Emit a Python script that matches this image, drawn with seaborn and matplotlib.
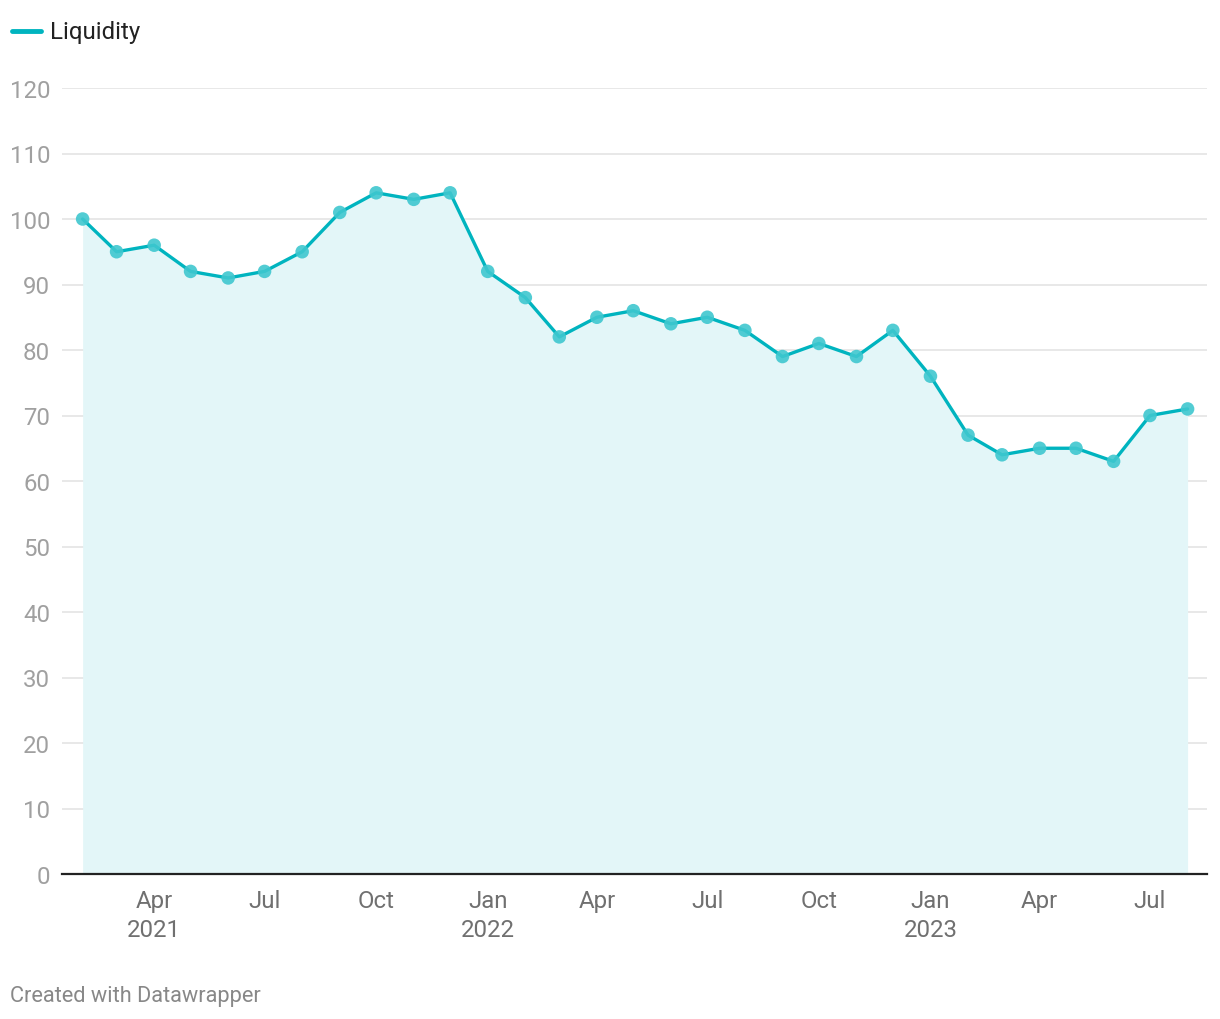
import pandas as pd
import matplotlib.pyplot as plt
import seaborn as sns

# Monatswerte Feb 2021 - Aug 2023
months = pd.date_range("2021-02-01", "2023-08-01", freq="MS")
liquidity = [100, 95, 96, 92, 91, 92, 95, 101, 104, 103, 104, 92, 88, 82, 85, 86,
             84, 85, 83, 79, 81, 79, 83, 76, 67, 64, 65, 65, 63, 70, 71]
y_ticks = [0, 10, 20, 30, 40, 50, 60, 70, 80, 90, 100, 110, 120]
x_ticks = ["2021-04-01", "2021-07-01", "2021-10-01", "2022-01-01", "2022-04-01",
           "2022-07-01", "2022-10-01", "2023-01-01", "2023-04-01", "2023-07-01"]
x_labels = ["Apr\n2021", "Jul", "Oct", "Jan\n2022", "Apr", "Jul", "Oct",
            "Jan\n2023", "Apr", "Jul"]

df = pd.DataFrame({"date": months, "value": liquidity})

sns.set_style("white")
plt.rcParams["font.family"] = ["Roboto", "DejaVu Sans"]

line_color = "#00b4bf"
fill_color = "#e3f6f8"

fig = plt.figure(figsize=(12.2, 10.2), dpi=100)
ax = fig.add_axes([62 / 1220, 145 / 1020, 1145 / 1220, 786 / 1020])

ax.fill_between(df["date"], 0, df["value"], color=fill_color, lw=0, zorder=1)
sns.lineplot(data=df, x="date", y="value", ax=ax, color=line_color, lw=2.4,
             zorder=3, legend=False)
sns.scatterplot(data=df, x="date", y="value", ax=ax, color="#3fc7cf", s=95,
                edgecolor="none", alpha=0.9, zorder=4, legend=False)

ax.set_ylim(0, 120)
ax.set_xlim(pd.Timestamp("2021-01-15"), pd.Timestamp("2023-08-17"))

ax.set_yticks(y_ticks)
ax.set_yticklabels([str(v) for v in y_ticks])
ax.set_xticks([pd.Timestamp(t) for t in x_ticks])
ax.set_xticklabels(x_labels)

ax.grid(axis="y", color="#e2e2e2", lw=1.1, zorder=0)
ax.grid(axis="x", visible=False)
for side in ["top", "right", "left"]:
    ax.spines[side].set_visible(False)
ax.spines["bottom"].set_color("#222222")
ax.spines["bottom"].set_linewidth(1.6)
ax.spines["bottom"].set_zorder(5)

ax.tick_params(axis="y", length=0, pad=8.6, labelsize=17.3, labelcolor="#a0a0a0")
ax.tick_params(axis="x", length=0, pad=11, labelsize=17.3, labelcolor="#707070")
for lbl in ax.get_xticklabels():
    lbl.set_linespacing(1.3)
ax.set_xlabel("")
ax.set_ylabel("")

# Legende oben links
fig.add_artist(plt.Line2D([12 / 1220, 41 / 1220], [1 - 32 / 1020, 1 - 32 / 1020],
                          color=line_color, lw=3.5, solid_capstyle="round"))
fig.text(50 / 1220, 1 - 32 / 1020, "Liquidity", fontsize=17.3, color="#222222",
         va="center", ha="left")

fig.text(10 / 1220, 1 - 997 / 1020, "Created with Datawrapper", fontsize=15.7,
         color="#888888", va="center", ha="left")

fig.savefig("out.png", dpi=100)
plt.close(fig)
